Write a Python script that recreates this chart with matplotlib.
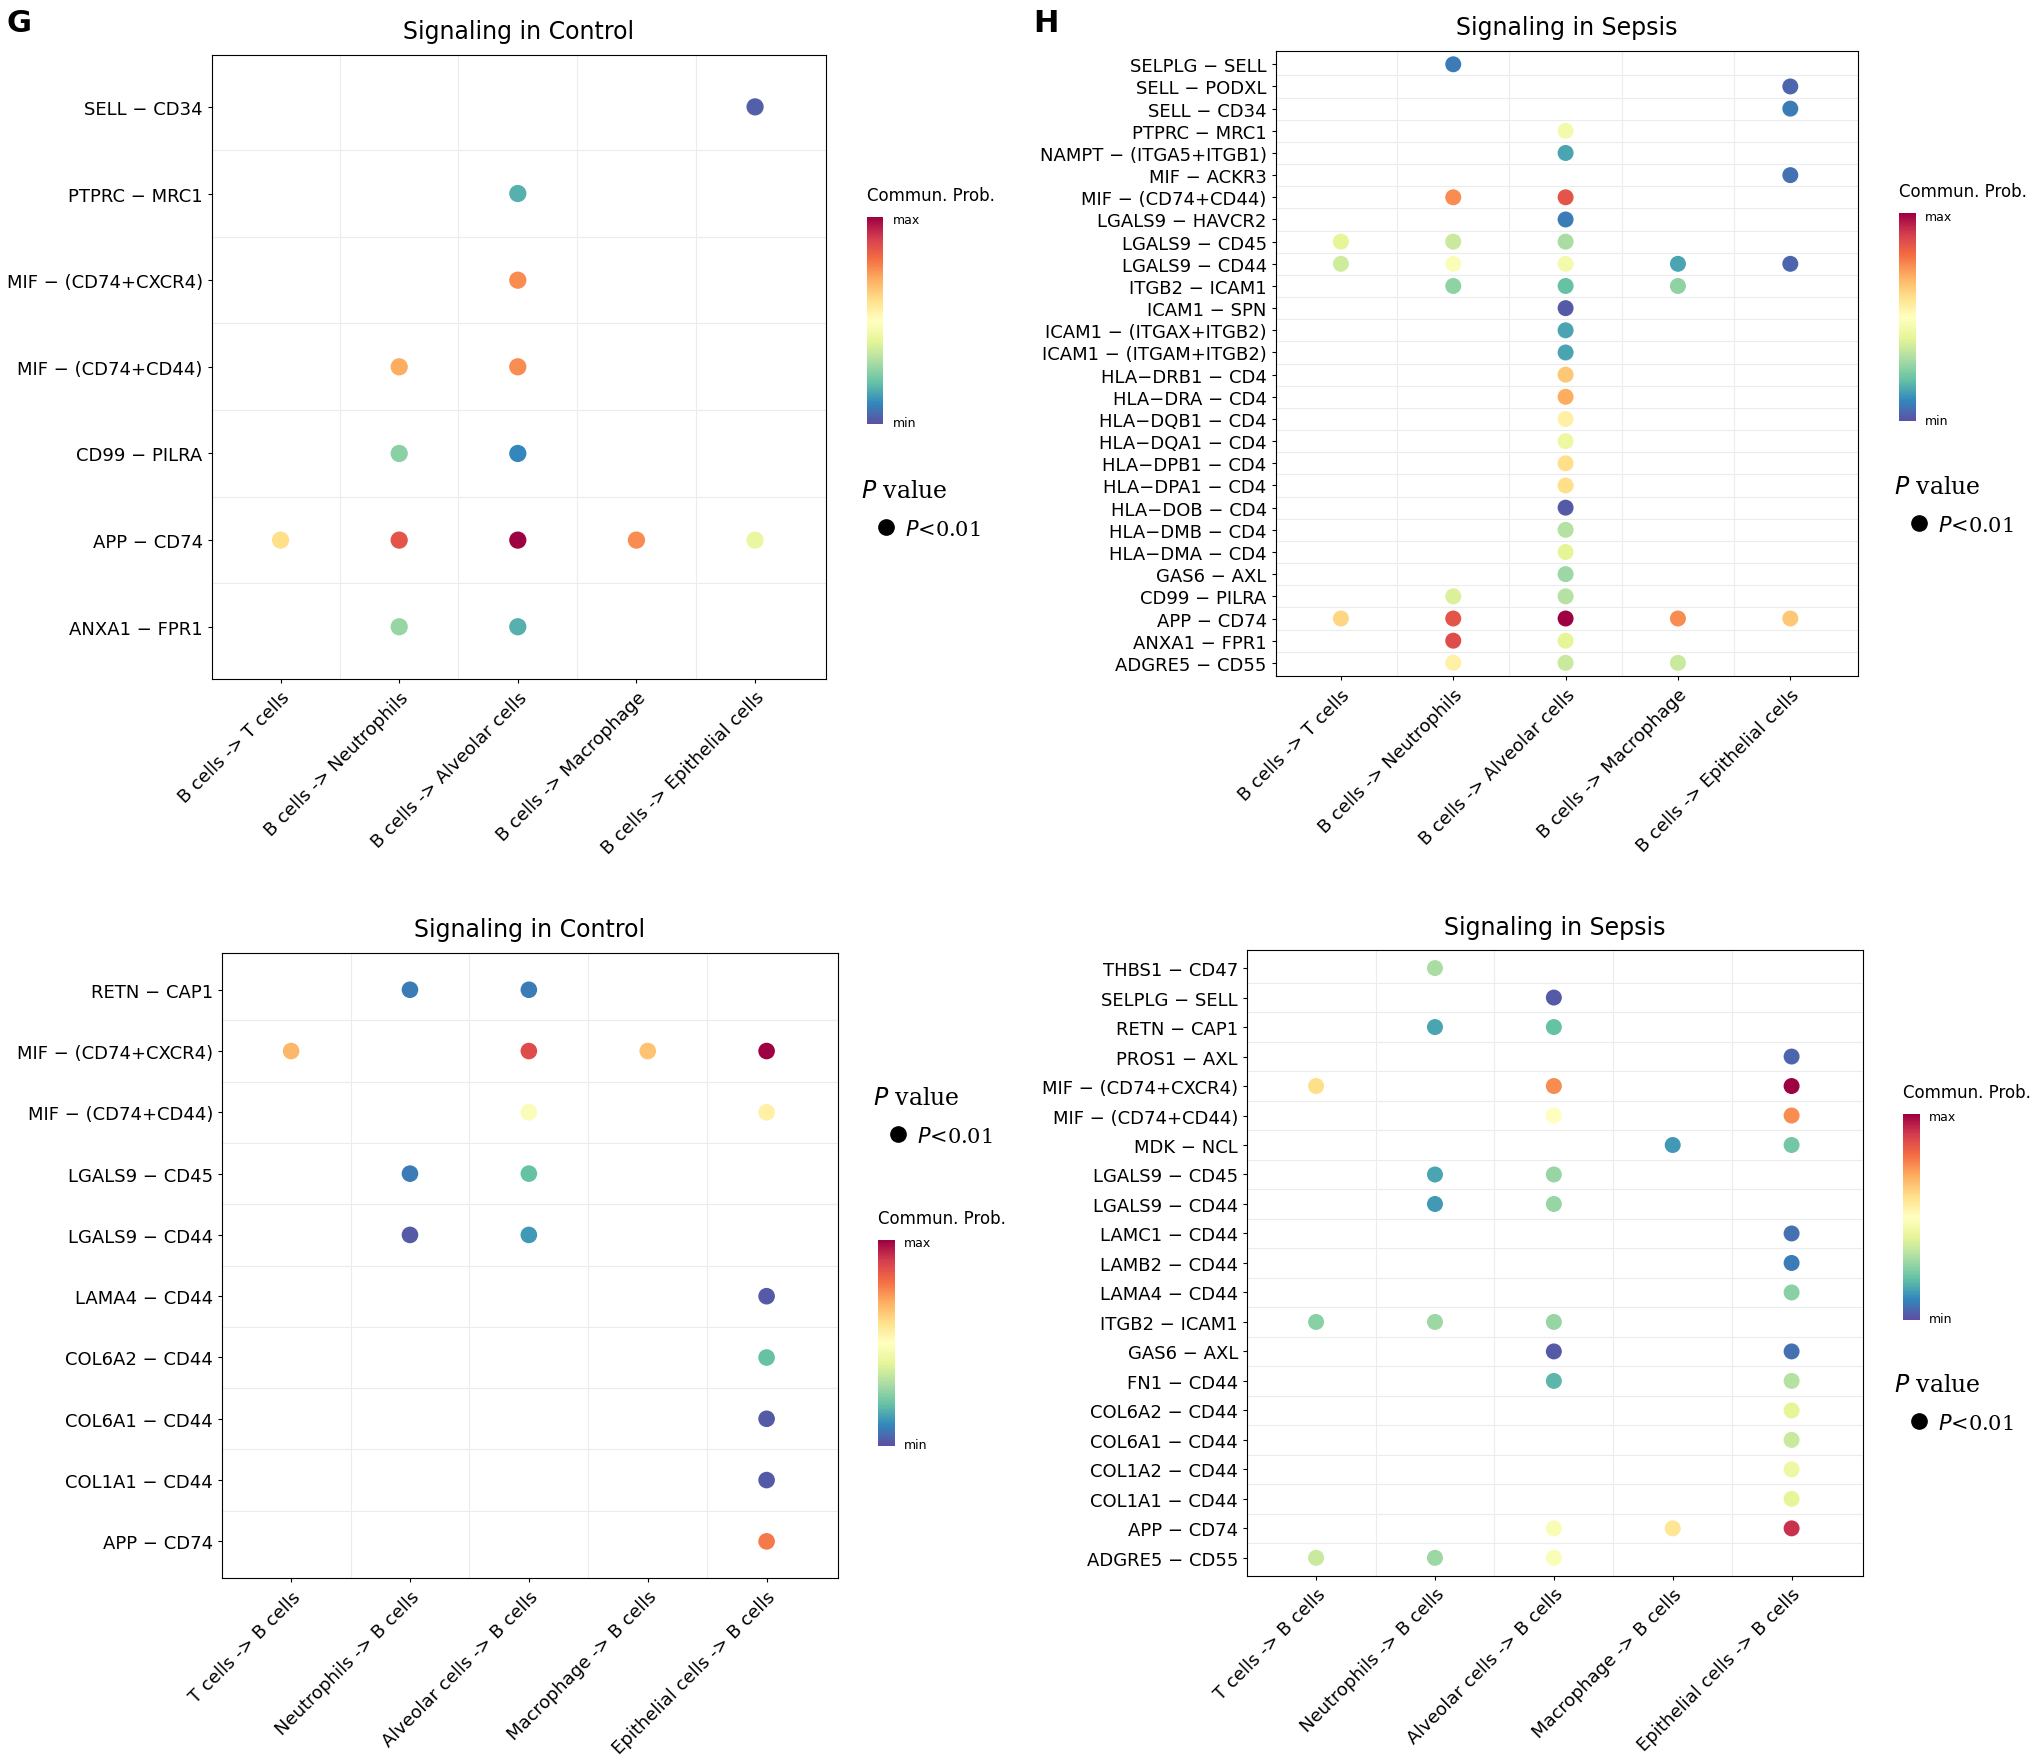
import numpy as np
from matplotlib import pyplot as plt
from matplotlib.colors import Normalize
from matplotlib.colorbar import ColorbarBase
from matplotlib.lines import Line2D

W, H = 1568.0, 1358.0
cmap = plt.get_cmap('Spectral_r')

out_cols = ['B cells -> T cells', 'B cells -> Neutrophils', 'B cells -> Alveolar cells',
            'B cells -> Macrophage', 'B cells -> Epithelial cells']
in_cols = ['T cells -> B cells', 'Neutrophils -> B cells', 'Alveolar cells -> B cells',
           'Macrophage -> B cells', 'Epithelial cells -> B cells']

# rows listed top to bottom; each entry: (pair, {column index: scaled prob})
g_rows = [
    ('SELL − CD34', {4: 0.03}),
    ('PTPRC − MRC1', {2: 0.17}),
    ('MIF − (CD74+CXCR4)', {2: 0.75}),
    ('MIF − (CD74+CD44)', {1: 0.7, 2: 0.75}),
    ('CD99 − PILRA', {1: 0.25, 2: 0.1}),
    ('APP − CD74', {0: 0.6, 1: 0.85, 2: 1.0, 3: 0.75, 4: 0.42}),
    ('ANXA1 − FPR1', {1: 0.27, 2: 0.17}),
]
h_rows = [
    ('SELPLG − SELL', {1: 0.08}),
    ('SELL − PODXL', {4: 0.04}),
    ('SELL − CD34', {4: 0.08}),
    ('PTPRC − MRC1', {2: 0.45}),
    ('NAMPT − (ITGA5+ITGB1)', {2: 0.15}),
    ('MIF − ACKR3', {4: 0.06}),
    ('MIF − (CD74+CD44)', {1: 0.75, 2: 0.85}),
    ('LGALS9 − HAVCR2', {2: 0.08}),
    ('LGALS9 − CD45', {0: 0.4, 1: 0.35, 2: 0.3}),
    ('LGALS9 − CD44', {0: 0.36, 1: 0.48, 2: 0.45, 3: 0.15, 4: 0.04}),
    ('ITGB2 − ICAM1', {1: 0.26, 2: 0.2, 3: 0.26}),
    ('ICAM1 − SPN', {2: 0.02}),
    ('ICAM1 − (ITGAX+ITGB2)', {2: 0.15}),
    ('ICAM1 − (ITGAM+ITGB2)', {2: 0.15}),
    ('HLA−DRB1 − CD4', {2: 0.65}),
    ('HLA−DRA − CD4', {2: 0.7}),
    ('HLA−DQB1 − CD4', {2: 0.55}),
    ('HLA−DQA1 − CD4', {2: 0.43}),
    ('HLA−DPB1 − CD4', {2: 0.6}),
    ('HLA−DPA1 − CD4', {2: 0.6}),
    ('HLA−DOB − CD4', {2: 0.02}),
    ('HLA−DMB − CD4', {2: 0.32}),
    ('HLA−DMA − CD4', {2: 0.4}),
    ('GAS6 − AXL', {2: 0.28}),
    ('CD99 − PILRA', {1: 0.38, 2: 0.32}),
    ('APP − CD74', {0: 0.62, 1: 0.85, 2: 1.0, 3: 0.75, 4: 0.65}),
    ('ANXA1 − FPR1', {1: 0.87, 2: 0.4}),
    ('ADGRE5 − CD55', {1: 0.55, 2: 0.35, 3: 0.35}),
]
bl_rows = [
    ('RETN − CAP1', {1: 0.08, 2: 0.08}),
    ('MIF − (CD74+CXCR4)', {0: 0.68, 2: 0.87, 3: 0.66, 4: 1.0}),
    ('MIF − (CD74+CD44)', {2: 0.48, 4: 0.55}),
    ('LGALS9 − CD45', {1: 0.08, 2: 0.2}),
    ('LGALS9 − CD44', {1: 0.02, 2: 0.13}),
    ('LAMA4 − CD44', {4: 0.02}),
    ('COL6A2 − CD44', {4: 0.2}),
    ('COL6A1 − CD44', {4: 0.02}),
    ('COL1A1 − CD44', {4: 0.02}),
    ('APP − CD74', {4: 0.78}),
]
br_rows = [
    ('THBS1 − CD47', {1: 0.3}),
    ('SELPLG − SELL', {2: 0.02}),
    ('RETN − CAP1', {1: 0.15, 2: 0.2}),
    ('PROS1 − AXL', {4: 0.04}),
    ('MIF − (CD74+CXCR4)', {0: 0.6, 2: 0.75, 4: 1.0}),
    ('MIF − (CD74+CD44)', {2: 0.5, 4: 0.75}),
    ('MDK − NCL', {3: 0.13, 4: 0.22}),
    ('LGALS9 − CD45', {1: 0.15, 2: 0.27}),
    ('LGALS9 − CD44', {1: 0.13, 2: 0.27}),
    ('LAMC1 − CD44', {4: 0.06}),
    ('LAMB2 − CD44', {4: 0.08}),
    ('LAMA4 − CD44', {4: 0.25}),
    ('ITGB2 − ICAM1', {0: 0.25, 1: 0.28, 2: 0.27}),
    ('GAS6 − AXL', {2: 0.02, 4: 0.06}),
    ('FN1 − CD44', {2: 0.18, 4: 0.32}),
    ('COL6A2 − CD44', {4: 0.4}),
    ('COL6A1 − CD44', {4: 0.35}),
    ('COL1A2 − CD44', {4: 0.43}),
    ('COL1A1 − CD44', {4: 0.4}),
    ('APP − CD74', {2: 0.47, 3: 0.58, 4: 0.92}),
    ('ADGRE5 − CD55', {0: 0.35, 1: 0.28, 2: 0.48}),
]


def box(x0, y0, x1, y1):
    return [x0 / W, 1 - y1 / H, (x1 - x0) / W, (y1 - y0) / H]


def dotplot(fig, rect, rows, cols, title, dot):
    ax = fig.add_axes(box(*rect))
    n = len(rows)
    xs, ys, cs = [], [], []
    for i, (name, vals) in enumerate(rows):
        for j, v in vals.items():
            xs.append(j + 1)
            ys.append(n - i)
            cs.append(v)
    ax.scatter(xs, ys, c=cs, cmap=cmap, vmin=0, vmax=1, s=dot, zorder=3)
    ax.set_xlim(0.42, len(cols) + 0.6)
    ax.set_ylim(0.4, n + 0.6)
    ax.set_yticks(np.arange(n, 0, -1))
    ax.set_yticklabels([r[0] for r in rows], fontsize=13)
    ax.set_xticks(np.arange(1, len(cols) + 1))
    ax.set_xticklabels(cols, rotation=45, ha='right', rotation_mode='anchor', fontsize=13)
    ax.set_xticks(np.arange(1.5, len(cols), 1), minor=True)
    ax.set_yticks(np.arange(1.5, n, 1), minor=True)
    ax.grid(which='minor', color='#ececec', lw=0.8)
    ax.tick_params(which='minor', length=0)
    ax.tick_params(length=3)
    ax.set_title(title, fontsize=17, pad=12)
    return ax


def cbar(fig, x, y0, y1):
    cax = fig.add_axes(box(x, y0, x + 13, y1))
    cb = ColorbarBase(cax, cmap=cmap, norm=Normalize(0, 1))
    cb.set_ticks([])
    cb.outline.set_visible(False)
    fig.text((x) / W, 1 - (y0 - 17) / H, 'Commun. Prob.', fontsize=12, va='center')
    fig.text((x + 20) / W, 1 - (y0 + 2) / H, 'max', fontsize=9, va='center')
    fig.text((x + 20) / W, 1 - (y1 - 1) / H, 'min', fontsize=9, va='center')


def pleg(fig, x, y):
    fig.text(x / W, 1 - y / H, '$P$ value', fontsize=17, family='serif', va='center')
    fig.text((x + 34) / W, 1 - (y + 30) / H, '$P$<0.01', fontsize=15, family='serif', va='center')
    fig.add_artist(Line2D([(x + 19) / W], [1 - (y + 28) / H], marker='o', ms=11,
                          color='black', transform=fig.transFigure))


fig = plt.figure(figsize=(20.37, 17.65), dpi=100)
plt.rcParams['font.family'] = ['DejaVu Sans']

dotplot(fig, (163, 43, 636, 523), g_rows, out_cols, 'Signaling in Control', 130)
dotplot(fig, (982, 40, 1430, 521), h_rows, out_cols, 'Signaling in Sepsis', 110)
dotplot(fig, (171, 734, 645, 1215), bl_rows, in_cols, 'Signaling in Control', 120)
dotplot(fig, (960, 732, 1434, 1213), br_rows, in_cols, 'Signaling in Sepsis', 110)

cbar(fig, 667, 168, 327)
pleg(fig, 663, 378)
cbar(fig, 1462, 165, 325)
pleg(fig, 1458, 375)
pleg(fig, 672, 845)
cbar(fig, 676, 955, 1113)
cbar(fig, 1465, 858, 1016)
pleg(fig, 1458, 1066)

fig.text(5 / W, 1 - 18 / H, 'G', fontsize=22, weight='bold', va='center')
fig.text(795 / W, 1 - 18 / H, 'H', fontsize=22, weight='bold', va='center')

fig.savefig('out.png', dpi=100)
